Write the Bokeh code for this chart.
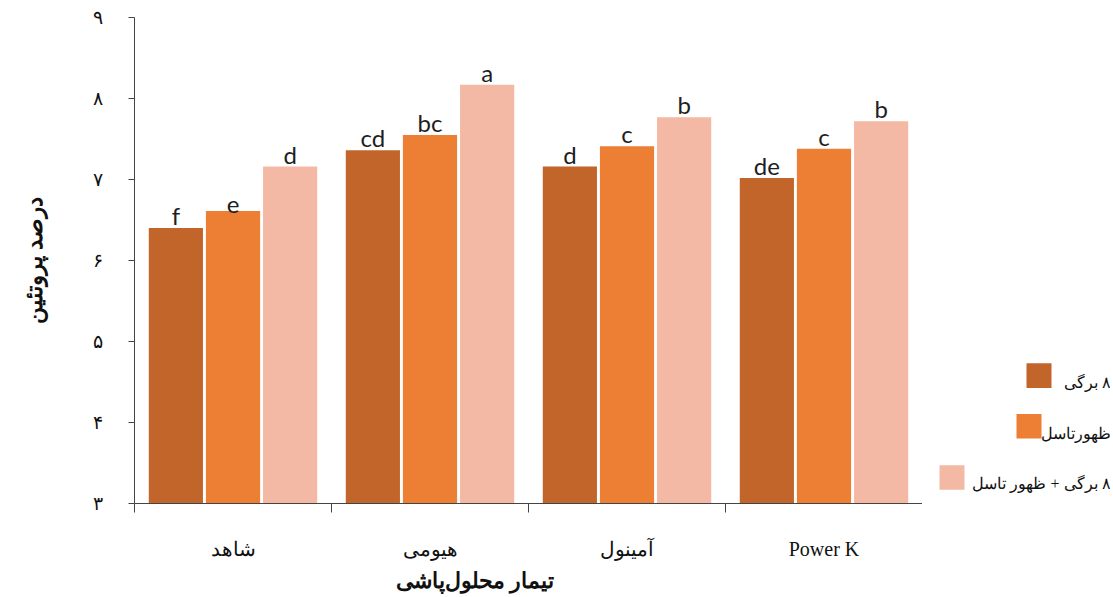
from bokeh.plotting import figure
from bokeh.models import Range1d, FixedTicker, Title, ColumnDataSource
from bokeh.layouts import row
from bokeh.embed import file_html
from bokeh.resources import INLINE
from bokeh.core.properties import value

# ---- data ----
categories = ["شاهد", "هیومی", "آمینول", "Power K"]
series_names = ["\u202b۸ برگی\u202c", "ظهورتاسل", "\u202b۸ برگی + ظهور تاسل\u202c"]
stage_8leaf = [6.40, 7.36, 7.16, 7.02]
stage_tassel = [6.61, 7.55, 7.41, 7.38]
stage_both = [7.16, 8.17, 7.77, 7.72]
letters_8leaf = ["f", "cd", "d", "de"]
letters_tassel = ["e", "bc", "c", "c"]
letters_both = ["d", "a", "b", "b"]
y_ticks = [3, 4, 5, 6, 7, 8, 9]
y_tick_labels = ["۳", "۴", "۵", "۶", "۷", "۸", "۹"]
y_title = "درصد پروتئین"
x_title = "تیمار محلول\u200cپاشی"

colors = ["#C1652B", "#EC7F34", "#F3B9A5"]
offsets = [-0.29, 0.0, 0.29]
bar_w = 0.275
SERIF = "Liberation Serif"

p = figure(width=922, height=595, x_range=Range1d(0, 4), y_range=Range1d(3, 9),
           output_backend="svg", toolbar_location=None,
           min_border_left=134, min_border_right=0, min_border_top=17, min_border_bottom=84)
p.outline_line_color = None
p.grid.visible = False
p.background_fill_color = "white"

series = [stage_8leaf, stage_tassel, stage_both]
letters = [letters_8leaf, letters_tassel, letters_both]
for j in range(3):
    xs = [i + 0.5 + offsets[j] for i in range(len(categories))]
    src = ColumnDataSource(dict(x=xs, top=series[j], lab=letters[j]))
    p.vbar(x="x", top="top", bottom=3, width=bar_w, source=src,
           fill_color=colors[j], line_color=None)
    p.text(x="x", y="top", text="lab", source=src, text_align="center",
           text_baseline="bottom", text_font=value("Lato"), text_font_size="24px",
           text_color="#1e1e1e", y_offset=2)

# x axis
xa = p.xaxis[0]
xa.ticker = FixedTicker(ticks=[i + 0.5 for i in range(len(categories))],
                        minor_ticks=list(range(len(categories) + 1)))
xa.major_label_overrides = {i + 0.5: c for i, c in enumerate(categories)}
xa.major_tick_line_color = None
xa.major_tick_out = 0
xa.major_tick_in = 0
xa.minor_tick_in = 0
xa.minor_tick_out = 9
xa.minor_tick_line_color = "#444444"
xa.axis_line_color = "#444444"
xa.major_label_text_font = SERIF
xa.major_label_text_font_size = "20px"
xa.major_label_text_color = "#111111"
xa.major_label_standoff = 25

p.add_layout(Title(text=x_title, align="left", offset=261, text_font=SERIF,
                   text_font_size="22px", text_font_style="bold", standoff=6,
                   text_color="#111111"), "below")

# y axis
ya = p.yaxis[0]
ya.ticker = FixedTicker(ticks=y_ticks)
ya.major_label_overrides = {t: l for t, l in zip(y_ticks, y_tick_labels)}
ya.major_tick_out = 6
ya.major_tick_in = 0
ya.minor_tick_out = 0
ya.minor_tick_in = 0
ya.major_tick_line_color = "#444444"
ya.axis_line_color = "#444444"
ya.major_label_text_font = SERIF
ya.major_label_text_font_size = "19px"
ya.major_label_text_color = "#111111"
ya.major_label_standoff = 26
ya.axis_label = y_title
ya.axis_label_text_font = SERIF
ya.axis_label_text_font_size = "23px"
ya.axis_label_text_font_style = "bold"
ya.axis_label_text_color = "#111111"
ya.axis_label_standoff = 43

# legend panel (drawn to match RTL layout); its frame is aligned with the main frame
lg = figure(width=188, height=595, x_range=Range1d(0, 188), y_range=Range1d(511, 17),
            output_backend="svg", toolbar_location=None,
            min_border_left=0, min_border_right=0, min_border_top=17, min_border_bottom=84)
lg.axis.visible = False
lg.grid.visible = False
lg.outline_line_color = None
sq_x = [116.5, 106.5, 29.5]
sq_y = [381, 432.5, 484.5]
tx_y = [388, 440, 491]
lg.rect(x=sq_x, y=sq_y, width=25, height=25, fill_color=colors, line_color=None)
lg.text(x=[188, 188, 188], y=tx_y, text=series_names, text_align="right",
        text_baseline="middle", text_font=value(SERIF), text_font_size="16px",
        text_color="#111111")

layout = row(p, lg)
open("out.html", "w").write(file_html(layout, INLINE))
